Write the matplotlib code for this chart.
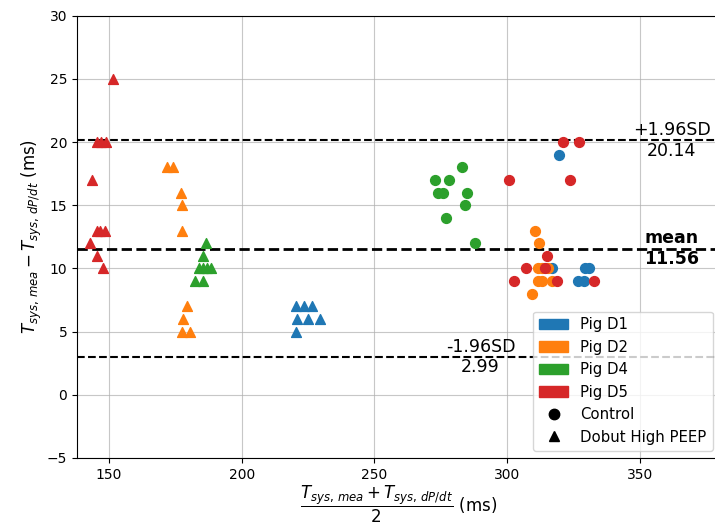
import matplotlib
matplotlib.use("Agg")
import matplotlib.pyplot as plt
from matplotlib.patches import Patch
from matplotlib.lines import Line2D

# Bland-Altman data per pig: mean of the two methods (x) and their difference (y), in ms
pigs = ["Pig D1", "Pig D2", "Pig D4", "Pig D5"]
colors = ["#1f77b4", "#ff7f0e", "#2ca02c", "#d62728"]

d1_ctrl_x = [319.7, 317.0, 329.5, 331.0, 326.7, 328.9]
d1_ctrl_y = [19, 10, 10, 10, 9, 9]
d1_dob_x = [220.5, 223.6, 226.6, 220.7, 225.1, 229.5, 220.5]
d1_dob_y = [7, 7, 7, 6, 6, 6, 5]

d2_ctrl_x = [310.5, 312.1, 311.8, 313.0, 315.5, 311.5, 313.0, 317.0, 309.3]
d2_ctrl_y = [13, 12, 10, 10, 10, 9, 9, 9, 8]
d2_dob_x = [171.7, 174.0, 177.0, 177.4, 177.4, 179.5, 178.0, 177.4, 180.5]
d2_dob_y = [18, 18, 16, 15, 13, 7, 6, 5, 5]

d4_ctrl_x = [273.0, 274.0, 276.0, 277.0, 278.0, 283.0, 284.0, 285.0, 288.0]
d4_ctrl_y = [17, 16, 16, 14, 17, 18, 15, 16, 12]
d4_dob_x = [186.5, 185.5, 184.0, 185.5, 187.0, 188.5, 182.4, 185.5]
d4_dob_y = [12, 11, 10, 10, 10, 10, 9, 9]

d5_ctrl_x = [300.7, 321.2, 327.2, 323.7, 314.9, 307.1, 314.3, 302.6, 318.7, 332.8]
d5_ctrl_y = [17, 20, 20, 17, 11, 10, 10, 9, 9, 9]
d5_dob_x = [151.6, 145.5, 147.0, 149.0, 143.5, 145.4, 146.6, 148.5, 142.8, 145.4, 147.9]
d5_dob_y = [25, 20, 20, 20, 17, 13, 13, 13, 12, 11, 10]

mean_diff = 11.56
upper_loa = 20.14
lower_loa = 2.99

series = [
    (d1_ctrl_x, d1_ctrl_y, d1_dob_x, d1_dob_y),
    (d2_ctrl_x, d2_ctrl_y, d2_dob_x, d2_dob_y),
    (d4_ctrl_x, d4_ctrl_y, d4_dob_x, d4_dob_y),
    (d5_ctrl_x, d5_ctrl_y, d5_dob_x, d5_dob_y),
]

fig = plt.figure(figsize=(7.15, 5.28), dpi=100)
ax = fig.add_axes([0.1077, 0.1326, 0.8993, 0.8377])

for (cx, cy, tx, ty), col in zip(series, colors):
    ax.scatter(cx, cy, marker="o", color=col, s=50, zorder=3)
    ax.scatter(tx, ty, marker="^", color=col, s=50, zorder=3)

ax.axhline(mean_diff, color="black", linestyle="--", linewidth=2.0, zorder=2)
ax.axhline(upper_loa, color="black", linestyle="--", linewidth=1.5, zorder=2)
ax.axhline(lower_loa, color="black", linestyle="--", linewidth=1.5, zorder=2)

ax.text(362, upper_loa, "+1.96SD\n%.2f" % upper_loa, ha="center", va="center",
        fontsize=12.5, zorder=4)
ax.text(362, mean_diff, "mean\n%.2f" % mean_diff, ha="center", va="center",
        fontsize=12.5, fontweight="bold", zorder=4)
ax.text(290, lower_loa, "-1.96SD\n%.2f" % lower_loa, ha="center", va="center",
        fontsize=12.5, zorder=4)

ax.set_xlim(137.94, 380.2)
ax.set_ylim(-5, 30)
ax.grid(True, color="#b0b0b0", linewidth=0.8, alpha=0.7)
ax.set_axisbelow(True)

ax.set_xlabel(r"$\dfrac{T_{sys,\,mea} + T_{sys,\,dP/dt}}{2}$ (ms)", fontsize=12, labelpad=2)
ax.set_ylabel(r"$T_{sys,\,mea} - T_{sys,\,dP/dt}$ (ms)", fontsize=12, labelpad=2)

handles = [Patch(color=c, label=p) for c, p in zip(colors, pigs)]
handles += [
    Line2D([], [], marker="o", color="black", linestyle="None", markersize=7.5, label="Control"),
    Line2D([], [], marker="^", color="black", linestyle="None", markersize=7.5, label="Dobut High PEEP"),
]
ax.legend(handles=handles, loc="lower right", fontsize=10.7)

fig.savefig("out.png", dpi=100)
